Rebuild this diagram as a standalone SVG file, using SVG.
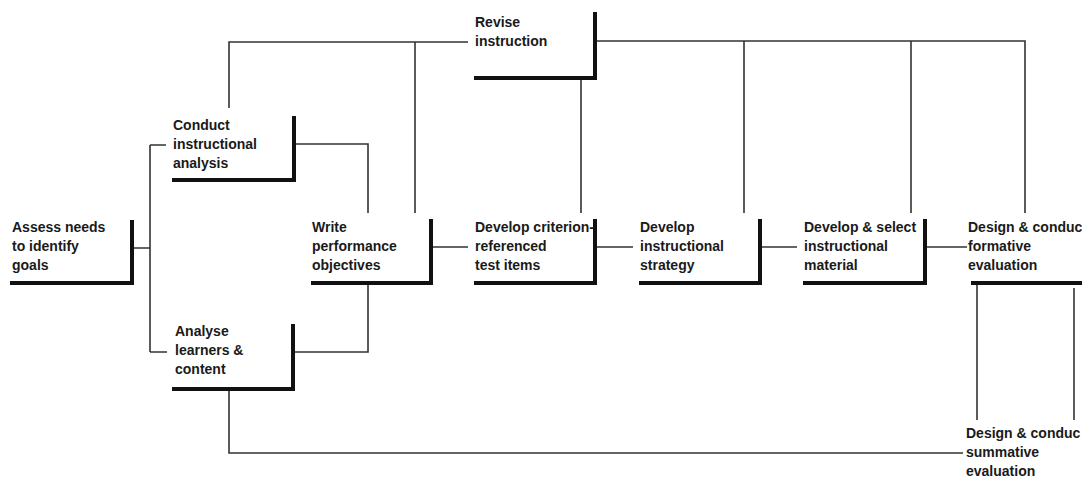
<svg xmlns="http://www.w3.org/2000/svg" width="1082" height="488" viewBox="0 0 1082 488">
<style>
text{font-family:"Liberation Sans",Arial,sans-serif;font-size:14px;font-weight:bold;fill:#1a1a1a}
.n{fill:none;stroke:#111;stroke-width:4;stroke-linecap:square}
.c{fill:none;stroke:#333;stroke-width:1.6}
</style>
<rect width="1082" height="488" fill="#fff"/>
<g id="connectors">
<path class="c" d="M133 248H150M150 145V352M150 145H166M150 352H167"/>
<path class="c" d="M294 144H368V213M293 352H368V283"/>
<path class="c" d="M229 108V42H468M415 42V213"/>
<path class="c" d="M595 41H1025V213M744 41V213M911 41V213M581 78V213"/>
<path class="c" d="M431 247H468M595 247H633M760 247H797M925 247H967"/>
<path class="c" d="M977 283V420M1074 288V420"/>
<path class="c" d="M229 389V453H963"/>
</g>
<g id="assess">
<path class="n" d="M12 283H132V222"/>
<text x="12" y="232">Assess needs</text>
<text x="12" y="251">to identify</text>
<text x="12" y="270">goals</text>
</g>
<g id="conduct">
<path class="n" d="M174 180H294V118"/>
<text x="173" y="130">Conduct</text>
<text x="173" y="149">instructional</text>
<text x="173" y="168">analysis</text>
</g>
<g id="analyse">
<path class="n" d="M174 389H293V326"/>
<text x="175" y="336">Analyse</text>
<text x="175" y="355">learners &amp;</text>
<text x="175" y="374">content</text>
</g>
<g id="revise">
<path class="n" d="M476 78H595V14"/>
<text x="475" y="27">Revise</text>
<text x="475" y="46">instruction</text>
</g>
<g id="write">
<path class="n" d="M313 283H431V221"/>
<text x="312" y="232">Write</text>
<text x="312" y="251">performance</text>
<text x="312" y="270">objectives</text>
</g>
<g id="criterion">
<path class="n" d="M476 283H595V221"/>
<text x="475" y="232">Develop criterion-</text>
<text x="475" y="251">referenced</text>
<text x="475" y="270">test items</text>
</g>
<g id="strategy">
<path class="n" d="M641 283H760V221"/>
<text x="640" y="232">Develop</text>
<text x="640" y="251">instructional</text>
<text x="640" y="270">strategy</text>
</g>
<g id="material">
<path class="n" d="M805 283H925V221"/>
<text x="804" y="232">Develop &amp; select</text>
<text x="804" y="251">instructional</text>
<text x="804" y="270">material</text>
</g>
<g id="formative">
<path class="n" d="M973 283H1084"/>
<text x="968" y="232">Design &amp; conduc</text>
<text x="968" y="251">formative</text>
<text x="968" y="270">evaluation</text>
</g>
<g id="summative">
<text x="966" y="438">Design &amp; conduc</text>
<text x="966" y="457">summative</text>
<text x="966" y="476">evaluation</text>
</g>
</svg>
